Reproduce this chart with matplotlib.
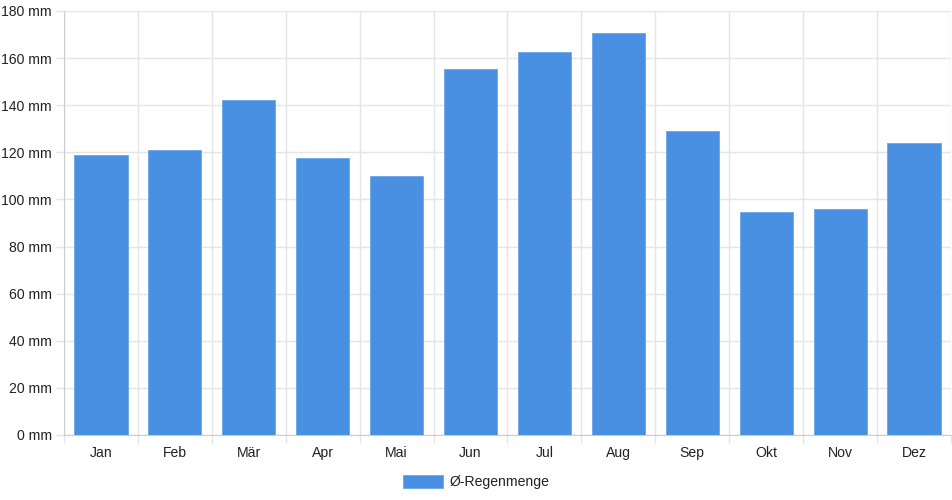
import matplotlib.pyplot as plt
import numpy as np

months = ["Jan", "Feb", "Mär", "Apr", "Mai", "Jun", "Jul", "Aug", "Sep", "Okt", "Nov", "Dez"]
rain_mm = [118.8, 121.0, 142.2, 117.5, 110.0, 155.3, 162.6, 170.6, 129.2, 94.7, 95.8, 124.0]
y_ticks = list(range(0, 181, 20))
legend_label = "Ø-Regenmenge"

plt.rcParams['font.family'] = ['Liberation Sans', 'DejaVu Sans']
grid_col = '#e5e5e5'
bar_col = '#4a90e2'
px = 0.72  # 1 px in points at dpi 100
fs = 14 * px

fig = plt.figure(figsize=(9.52, 5.0), dpi=100)
ax = fig.add_axes([64 / 952, 65 / 500, 887 / 952, 424 / 500])

x = np.arange(len(months))
ax.bar(x, rain_mm, width=0.72, color=bar_col, edgecolor='#6aa5ea', linewidth=0.6,
       label=legend_label, zorder=3)

ax.set_xlim(-0.5, len(months) - 0.5)
ax.set_ylim(0, 180)

ax.set_yticks(y_ticks)
ax.set_yticklabels([f"{v} mm" for v in y_ticks])
ax.set_xticks(x)
ax.set_xticklabels(months)
ax.set_xticks(np.arange(-0.5, len(months)), minor=True)

ax.tick_params(axis='y', length=8 * px, width=1, color=grid_col, pad=4 * px,
               labelsize=fs, labelcolor='#222222')
ax.tick_params(axis='x', which='major', length=0, pad=11 * px,
               labelsize=fs, labelcolor='#222222')
ax.tick_params(axis='x', which='minor', length=8 * px, width=1, color=grid_col)

ax.grid(True, axis='y', color=grid_col, linewidth=1, zorder=0)
ax.grid(True, axis='x', which='minor', color=grid_col, linewidth=1, zorder=0)
ax.grid(False, axis='x', which='major')

for side in ['top', 'right']:
    ax.spines[side].set_visible(False)
ax.spines['left'].set_color('#cccccc')
ax.spines['bottom'].set_color('#cccccc')

fig.legend(loc='center', bbox_to_anchor=(476 / 952, 18 / 500), frameon=False,
           fontsize=fs, handlelength=40 / 14, handleheight=14 / 14,
           handletextpad=0.5, labelcolor='#222222')

fig.savefig('out.png', dpi=100)
